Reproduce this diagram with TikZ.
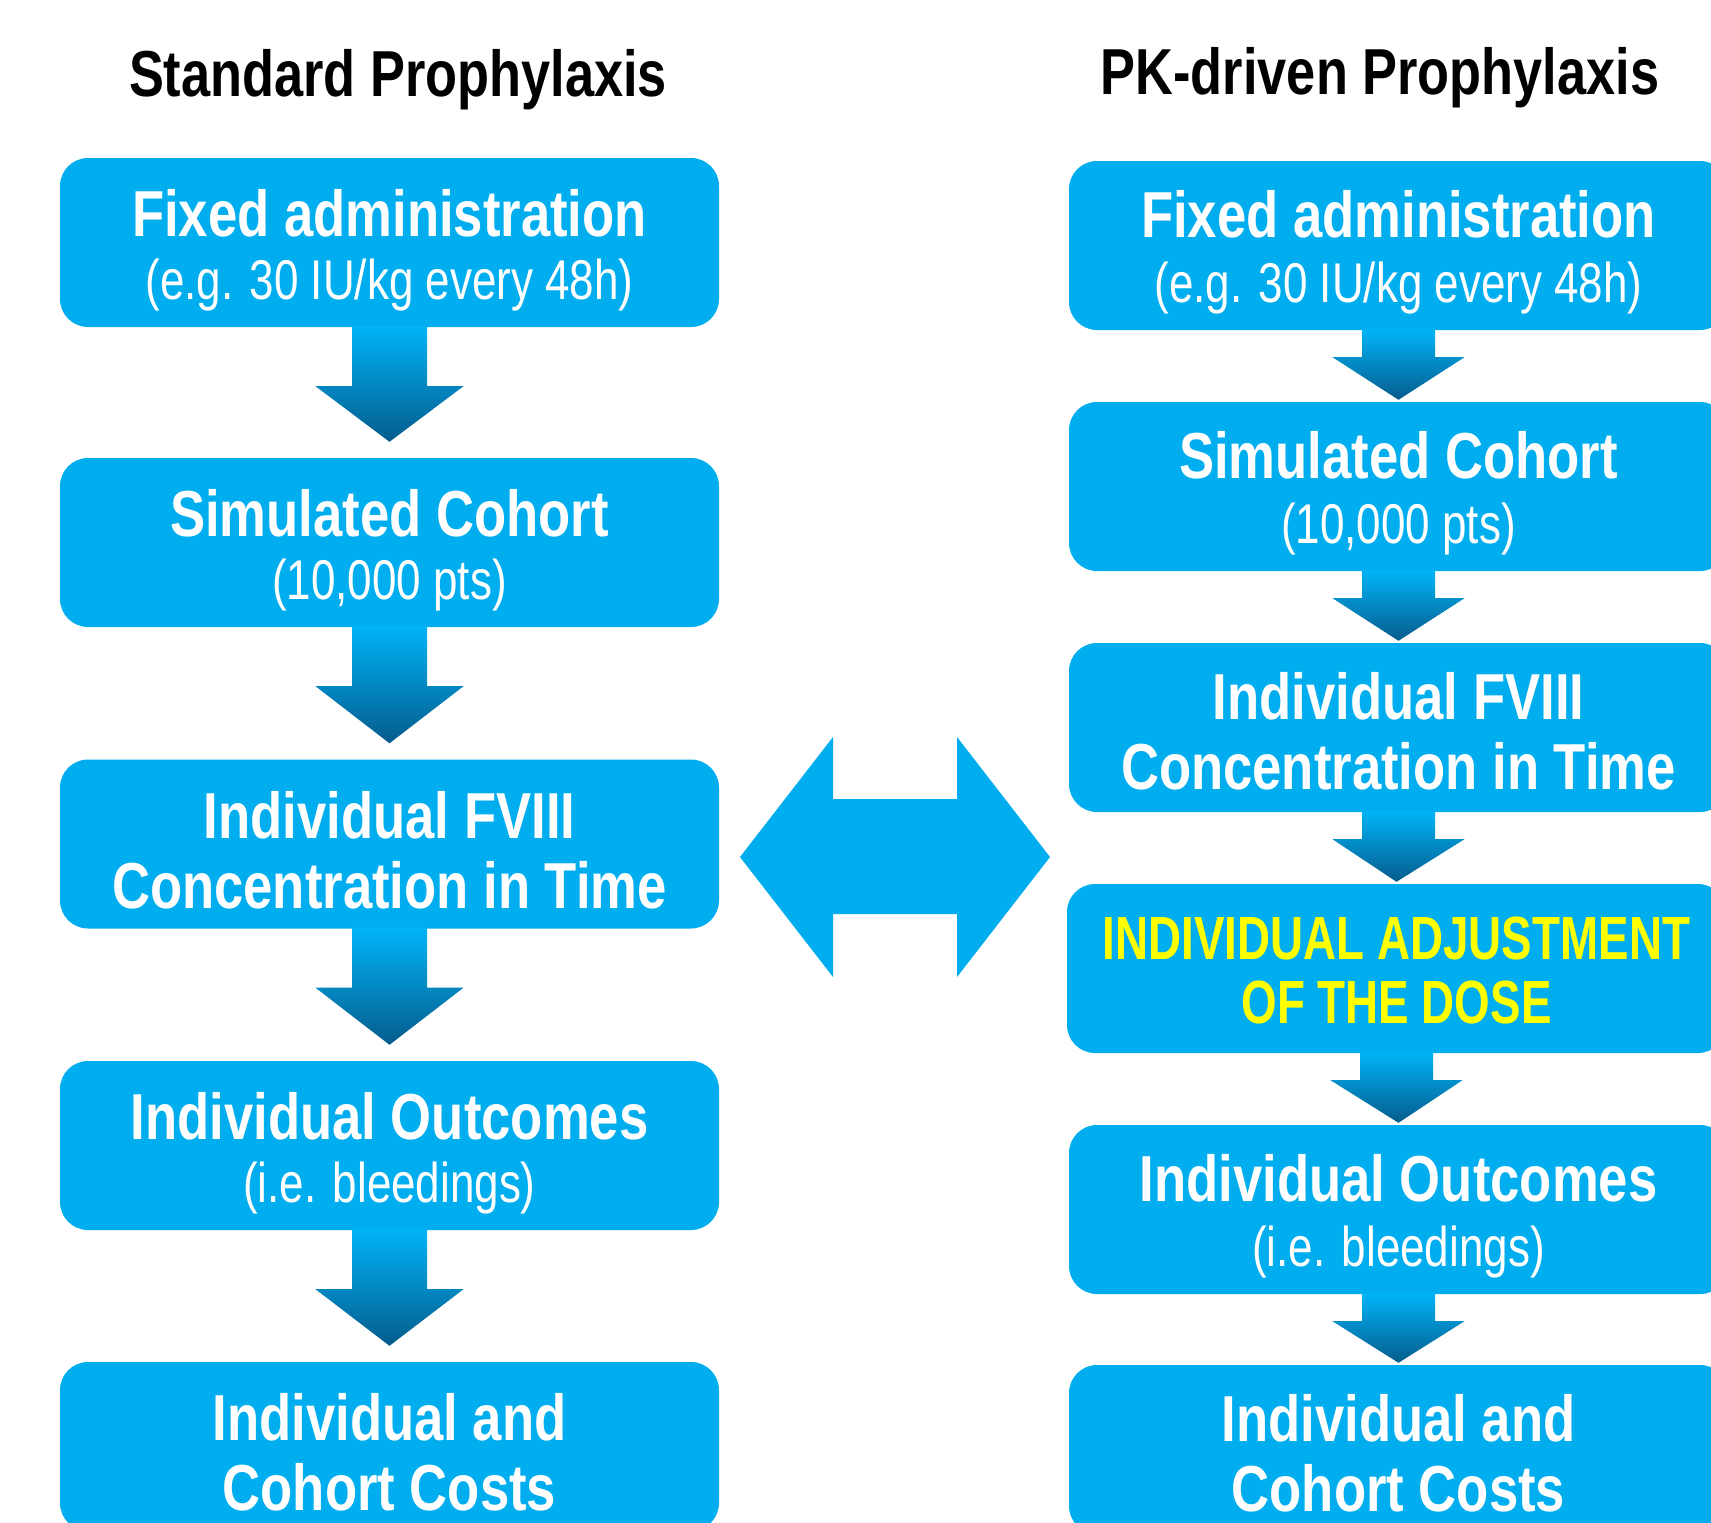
\documentclass[tikz,border=0pt]{standalone}
\usepackage{fontspec}
\usetikzlibrary{calc}
\newfontfamily\hfont[FakeStretch=0.81]{Liberation Sans}
\newfontfamily\sfont[FakeStretch=0.785]{Liberation Sans}
\newfontfamily\yfont[FakeStretch=0.75]{Liberation Sans}
\newfontfamily\tfont[FakeStretch=0.805]{Liberation Sans}
\definecolor{boxblue}{RGB}{0,173,239}
\definecolor{arrtop}{RGB}{0,180,248}
\definecolor{arrbot}{RGB}{5,92,140}
\definecolor{dyellow}{RGB}{255,255,0}
\tikzset{
  box/.style={fill=boxblue, rounded corners=28pt, minimum width=659pt, minimum height=169pt, inner sep=0pt, draw=none},
  head/.style={font={\hfont\bfseries\fontsize{65}{70}\selectfont}, text=white, anchor=base, inner sep=0pt},
  sub/.style={font={\sfont\fontsize{56}{62}\selectfont}, text=white, anchor=base, inner sep=0pt},
  yel/.style={font={\yfont\bfseries\fontsize{61}{66}\selectfont}, text=dyellow, anchor=base, inner sep=0pt},
  ttl/.style={font={\tfont\bfseries\fontsize{65}{70}\selectfont}, text=black, anchor=base, inner sep=0pt},
  arrowshade/.style={top color=arrtop, bottom color=arrbot, draw=none},
}
% from, to, shaft half width, head half width, shaft length, gap before next box
\newcommand\flowarrow[6]{%
  \shade[arrowshade] ($(#1.south)+(-#3,-1)$) -- ($(#1.south)+(-#3,#5)$) -- ($(#1.south)+(-#4,#5)$)
    -- ($(#2.north)+(0,-#6)$) -- ($(#1.south)+(#4,#5)$) -- ($(#1.south)+(#3,#5)$)
    -- ($(#1.south)+(#3,-1)$) -- cycle;}
\begin{document}
\begin{tikzpicture}[x=1pt,y=-1pt]
\useasboundingbox (0,0) rectangle (1711,1523);
\clip (0,0) rectangle (1711,1523);
\fill[white] (0,0) rectangle (1711,1523);

% titles
\node[ttl] (tl) at (398,96) {Standard Prophylaxis};
\node[ttl] (tr) at (1380,94) {PK-driven Prophylaxis};

% left column
\node[box] (L1) at (389.5,242.5) {};
\node[box] (L2) at (389.5,542.5) {};
\node[box] (L3) at (389.5,844) {};
\node[box] (L4) at (389.5,1145.5) {};
\node[box] (L5) at (389.5,1446.5) {};

\node[head] (L1a) at ($(L1.center)+(0,-6)$) {Fixed administration};
\node[sub]  (L1b) at ($(L1.center)+(0,56.5)$) {(e.g. 30 IU/kg every 48h)};
\node[head] (L2a) at ($(L2.center)+(0,-6)$) {Simulated Cohort};
\node[sub]  (L2b) at ($(L2.center)+(0,56.5)$) {(10,000 pts)};
\node[head] (L3a) at ($(L3.center)+(0,-6)$) {Individual FVIII};
\node[head] (L3b) at ($(L3.center)+(0,64)$) {Concentration in Time};
\node[head] (L4a) at ($(L4.center)+(0,-6)$) {Individual Outcomes};
\node[sub]  (L4b) at ($(L4.center)+(0,56.5)$) {(i.e. bleedings)};
\node[head] (L5a) at ($(L5.center)+(0,-6)$) {Individual and};
\node[head] (L5b) at ($(L5.center)+(0,64)$) {Cohort Costs};

\flowarrow{L1}{L2}{37.5}{74}{59}{16}
\flowarrow{L2}{L3}{37.5}{74}{59}{16}
\flowarrow{L3}{L4}{37.5}{74}{59}{16}
\flowarrow{L4}{L5}{37.5}{74}{59}{16}

% right column
\node[box] (R1) at (1398.5,245.5) {};
\node[box] (R2) at (1398.5,486.5) {};
\node[box] (R3) at (1398.5,727.5) {};
\node[box] (R4) at (1396.5,968.5) {};
\node[box] (R5) at (1398.5,1209.5) {};
\node[box] (R6) at (1398.5,1449.5) {};

\node[head] (R1a) at ($(R1.center)+(0,-8)$) {Fixed administration};
\node[sub]  (R1b) at ($(R1.center)+(0,56.5)$) {(e.g. 30 IU/kg every 48h)};
\node[head] (R2a) at ($(R2.center)+(0,-8)$) {Simulated Cohort};
\node[sub]  (R2b) at ($(R2.center)+(0,56.5)$) {(10,000 pts)};
\node[head] (R3a) at ($(R3.center)+(0,-8)$) {Individual FVIII};
\node[head] (R3b) at ($(R3.center)+(0,62)$) {Concentration in Time};
\node[yel]  (R4a) at ($(R4.center)+(0,-9.5)$) {INDIVIDUAL ADJUSTMENT};
\node[yel]  (R4b) at ($(R4.center)+(0,55)$) {OF THE DOSE};
\node[head] (R5a) at ($(R5.center)+(0,-8)$) {Individual Outcomes};
\node[sub]  (R5b) at ($(R5.center)+(0,56.5)$) {(i.e. bleedings)};
\node[head] (R6a) at ($(R6.center)+(0,-8)$) {Individual and};
\node[head] (R6b) at ($(R6.center)+(0,62)$) {Cohort Costs};

\flowarrow{R1}{R2}{36.5}{66}{27}{2}
\flowarrow{R2}{R3}{36.5}{66}{27}{2}
\flowarrow{R3}{R4}{36.5}{66}{27}{2}
\flowarrow{R4}{R5}{36.5}{66}{27}{2}
\flowarrow{R5}{R6}{36.5}{66}{27}{2}

% double arrow between the columns
\coordinate (dl) at (740,857);
\coordinate (dr) at (1050,857);
\fill[boxblue] (dl) -- (833,737) -- (833,799) -- (957,799) -- (957,737) -- (dr)
  -- (957,977) -- (957,914) -- (833,914) -- (833,977) -- cycle;
\end{tikzpicture}
\end{document}
